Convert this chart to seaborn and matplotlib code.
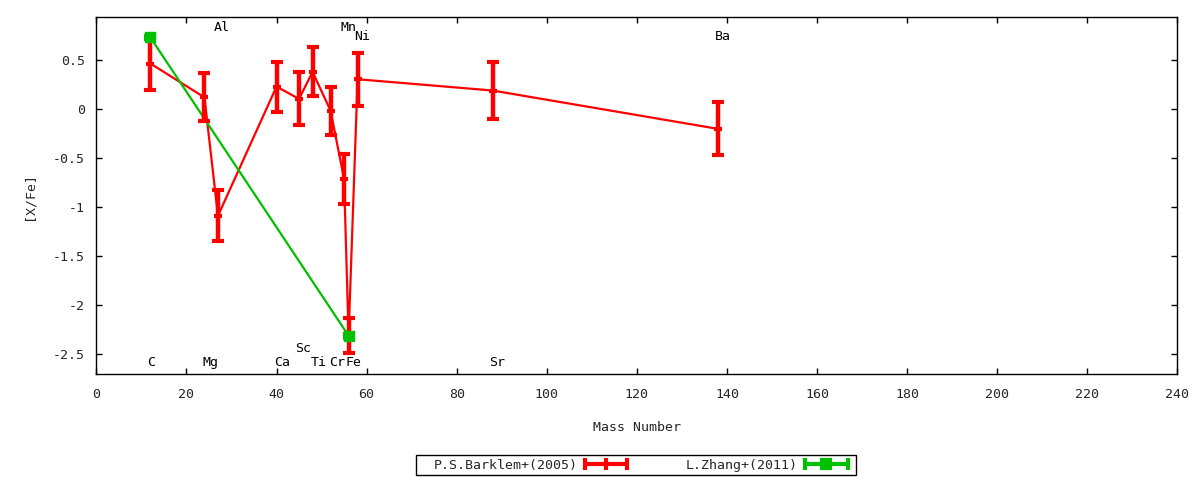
import numpy as np
import pandas as pd
import matplotlib
matplotlib.use("Agg")
import matplotlib.pyplot as plt
import seaborn as sns
from matplotlib.lines import Line2D
from matplotlib.patches import Rectangle
from matplotlib.legend_handler import HandlerBase

# ---------------- data ----------------
barklem_elements = ['C', 'Mg', 'Al', 'Ca', 'Sc', 'Ti', 'Cr', 'Mn', 'Fe', 'Ni', 'Sr', 'Ba']
barklem_mass = [12, 24, 27, 40, 45, 48, 52, 55, 56, 58, 88, 138]
barklem_xfe = [0.46, 0.115, -1.09, 0.225, 0.10, 0.375, -0.02, -0.715, -2.31, 0.30, 0.185, -0.205]
barklem_err = [0.27, 0.245, 0.26, 0.255, 0.27, 0.25, 0.245, 0.25, 0.18, 0.27, 0.29, 0.27]

zhang_elements = ['C', 'Fe']
zhang_mass = [12, 56]
zhang_xfe = [0.725, -2.31]
zhang_err = [0.02, 0.02]

label_text = ['C', 'Mg', 'Al', 'Ca', 'Sc', 'Ti', 'Cr', 'Mn', 'Fe', 'Ni', 'Sr', 'Ba']
label_x = [12.2, 25.3, 27.9, 41.3, 45.9, 49.3, 53.5, 55.9, 57.0, 59.0, 89.0, 139.0]
label_y = [-2.58, -2.58, 0.83, -2.58, -2.44, -2.58, -2.58, 0.83, -2.58, 0.73, -2.58, 0.73]

legend_labels = ['P.S.Barklem+(2005)', 'L.Zhang+(2011)']
x_ticks = [0, 20, 40, 60, 80, 100, 120, 140, 160, 180, 200, 220, 240]
y_ticks = [0.5, 0, -0.5, -1, -1.5, -2, -2.5]
y_tick_labels = ['0.5', '0', '-0.5', '-1', '-1.5', '-2', '-2.5']

RED = '#ff0000'
GREEN = '#00c000'

df_b = pd.DataFrame({'mass': barklem_mass, 'xfe': barklem_xfe, 'err': barklem_err})
df_z = pd.DataFrame({'mass': zhang_mass, 'xfe': zhang_xfe, 'err': zhang_err})

# ---------------- style ----------------
sns.set_theme(style='white')
plt.rcParams['font.family'] = ['DejaVu Sans Mono']
plt.rcParams['font.size'] = 9.5

fig = plt.figure(figsize=(12, 4.8), dpi=100)
ax = fig.add_axes([0.0803, 0.2208, 0.9008, 0.7431])

# connecting lines
sns.lineplot(data=df_b, x='mass', y='xfe', sort=False, color=RED, lw=1.6, ax=ax,
             legend=False, estimator=None)
sns.lineplot(data=df_z, x='mass', y='xfe', sort=False, color=GREEN, lw=1.6, ax=ax,
             legend=False, estimator=None)

# error bars
ax.errorbar(df_b['mass'], df_b['xfe'], yerr=df_b['err'], fmt='none', ecolor=RED,
            elinewidth=3.2, capsize=4, capthick=3, zorder=3)
ax.plot(df_b['mass'], df_b['xfe'], ls='none', marker='_', ms=5.5, mew=3, color=RED, zorder=3)

ax.errorbar(df_z['mass'], df_z['xfe'], yerr=df_z['err'], fmt='none', ecolor=GREEN,
            elinewidth=3, capsize=4, capthick=3, zorder=4)
ax.plot(df_z['mass'], df_z['xfe'], ls='none', marker='s', ms=6.5, color=GREEN, zorder=4)

# element labels
for t, x, y in zip(label_text, label_x, label_y):
    ax.text(x, y, t, ha='center', va='center', fontsize=9.5, color='black')

ax.set_xlim(0, 240)
ax.set_ylim(-2.7, 0.93)
ax.set_xticks(x_ticks)
ax.set_xticklabels([str(v) for v in x_ticks])
ax.set_yticks(y_ticks)
ax.set_yticklabels(y_tick_labels)
ax.tick_params(direction='in', length=4, width=1, color='black',
               top=True, right=True, bottom=True, left=True,
               labeltop=False, labelright=False, labelsize=9.5, pad=8)
ax.tick_params(axis='x', pad=10)
for s in ax.spines.values():
    s.set_color('black')
    s.set_linewidth(1)

ax.set_xlabel('Mass Number', fontsize=9.5)
ax.set_ylabel('[X/Fe]', fontsize=9.5)
ax.yaxis.set_label_coords(-0.056, 0.5)
ax.xaxis.set_label_coords(0.5, -0.131)


# legend
class ErrHandler(HandlerBase):
    def __init__(self, color, center_marker, center_ms):
        super().__init__()
        self.color = color
        self.center_marker = center_marker
        self.center_ms = center_ms

    def create_artists(self, legend, orig_handle, xdescent, ydescent, width, height,
                       fontsize, trans):
        y = height / 2 - ydescent
        x0 = -xdescent
        x1 = -xdescent + width
        line = Line2D([x0, x1], [y, y], color=self.color, lw=3)
        caps = Line2D([x0, x1], [y, y], ls='none', marker='|', ms=8, mew=3, color=self.color)
        center = Line2D([(x0 + x1) / 2], [y], ls='none', marker=self.center_marker,
                        ms=self.center_ms, mew=3, color=self.color)
        for a in (line, caps, center):
            a.set_transform(trans)
        return [line, caps, center]


h_red = Line2D([], [], color=RED)
h_green = Line2D([], [], color=GREEN)
leg = fig.legend([h_red, h_green], legend_labels,
                 handler_map={h_red: ErrHandler(RED, '|', 8), h_green: ErrHandler(GREEN, 's', 6)},
                 loc='center', bbox_to_anchor=(0.5337, 1 - 465 / 480), ncol=2,
                 markerfirst=False, frameon=False, handlelength=3.2, columnspacing=4.4,
                 borderpad=0.25, handletextpad=0.6, fontsize=9.5)
fig.patches.append(Rectangle((416 / 1200, 1 - 475 / 480), 440 / 1200, 20 / 480,
                             transform=fig.transFigure, fill=False, edgecolor='black',
                             linewidth=1))

fig.savefig('out.png', dpi=100)
